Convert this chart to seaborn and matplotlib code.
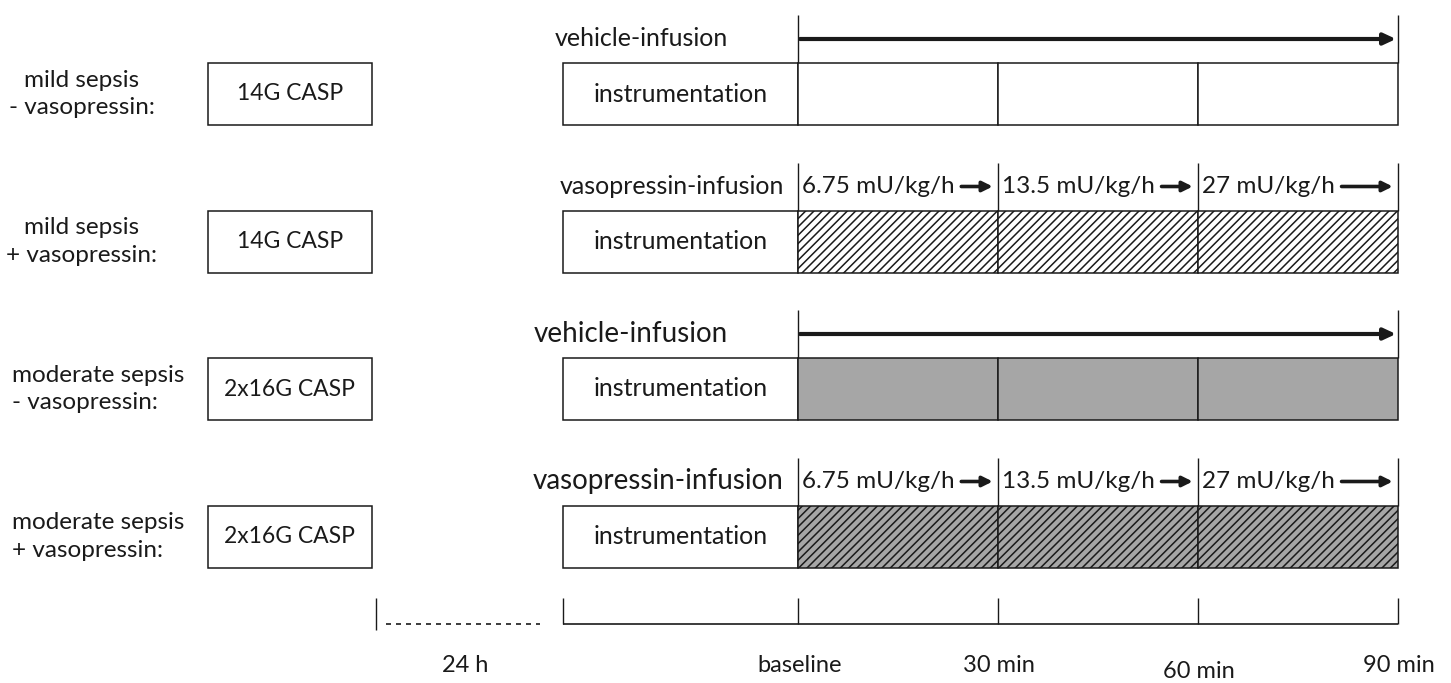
import matplotlib
matplotlib.use("Agg")
import matplotlib.pyplot as plt
import seaborn as sns

# study groups (top to bottom)
group_names = ["mild sepsis\n- vasopressin:", "mild sepsis\n+ vasopressin:",
               "moderate sepsis\n- vasopressin:", "moderate sepsis\n+ vasopressin:"]
casp_labels = ["14G CASP", "14G CASP", "2x16G CASP", "2x16G CASP"]
infusion_labels = ["vehicle-infusion", "vasopressin-infusion",
                   "vehicle-infusion", "vasopressin-infusion"]
gets_vasopressin = [False, True, False, True]
is_moderate = [False, False, True, True]

# infusion periods (min after baseline) and vasopressin doses
period_starts = [0, 30, 60]
period_length = 30
dose_labels = ["6.75 mU/kg/h", "13.5 mU/kg/h", "27 mU/kg/h"]

# time axis
time_points = [0, 30, 60, 90]
time_labels = ["baseline", "30 min", "60 min", "90 min"]
pre_label = "24 h"

sns.set_theme(style="white")
plt.rcParams["font.family"] = ["Lato", "DejaVu Sans"]
plt.rcParams["hatch.linewidth"] = 1.1

PX = 200 / 30.0            # pixels per minute
W, H = 1451, 683
fig = plt.figure(figsize=(W / 100, H / 100), dpi=100)
ax = fig.add_axes([0, 0, 1, 1])
ax.set_xlim(-798 / PX, (W - 798) / PX)
ax.set_ylim(H, 0)
ax.axis("off")

ink = "#1a1a1a"
grey = "#a6a6a6"
lw = 1.1
box_h = 62
casp_left, casp_w = -590 / PX, 164 / PX
instr_left = -235 / PX

fig.canvas.draw()
renderer = fig.canvas.get_renderer()

for i, name in enumerate(group_names):
    yc = 94 + 147.5 * i
    top = yc - box_h / 2

    # group label
    if is_moderate[i]:
        ax.text(-786 / PX, yc, name, ha="left", va="center", fontsize=17.5,
                color=ink, linespacing=1.4)
    else:
        ax.text(-716 / PX, yc, name, ha="center", va="center", fontsize=17.5,
                color=ink, linespacing=1.4, multialignment="center")

    # CASP box
    ax.barh(yc, casp_w, left=casp_left, height=box_h, color="white",
            edgecolor=ink, linewidth=lw)
    ax.text(casp_left + casp_w / 2, yc, casp_labels[i], ha="center",
            va="center", fontsize=16.5, color=ink)

    # instrumentation
    ax.barh(yc, -instr_left, left=instr_left, height=box_h, color="white",
            edgecolor=ink, linewidth=lw)
    ax.text(instr_left / 2, yc, "instrumentation", ha="center", va="center",
            fontsize=18, color=ink)

    # infusion periods
    fill = grey if is_moderate[i] else "white"
    hatch = "////" if gets_vasopressin[i] else None
    ax.barh([yc] * 3, [period_length] * 3, left=period_starts, height=box_h,
            color=fill, edgecolor=ink, linewidth=lw, hatch=hatch)

    # infusion label and markers above boxes
    ly = top - 24
    lx = -14 / PX if gets_vasopressin[i] else -70 / PX
    ax.text(lx, ly, infusion_labels[i], ha="right", va="center",
            fontsize=20 if is_moderate[i] else 18, color=ink)
    if gets_vasopressin[i]:
        marks = time_points
    else:
        marks = [time_points[0], time_points[-1]]
    ax.vlines(marks, top - 48, top, color=ink, linewidth=1.0)

    if gets_vasopressin[i]:
        for s, dose in zip(period_starts, dose_labels):
            t = ax.text(s + 0.6, ly, dose, ha="left", va="center",
                        fontsize=17.5, color=ink)
            bb = t.get_window_extent(renderer=renderer)
            x_end = ax.transData.inverted().transform((bb.x1, 0))[0]
            ax.annotate("", xy=(s + period_length - 0.8, ly),
                        xytext=(x_end + 1.0, ly),
                        arrowprops=dict(arrowstyle="-|>,head_length=0.5,head_width=0.25",
                                        color=ink, lw=2.6, shrinkA=0, shrinkB=0))
    else:
        ax.annotate("", xy=(time_points[-1] - 0.3, ly), xytext=(0.3, ly),
                    arrowprops=dict(arrowstyle="-|>,head_length=0.6,head_width=0.28",
                                    color=ink, lw=3.0, shrinkA=0, shrinkB=0))

# time line at the bottom
base_y = 624
ax.hlines(base_y, instr_left, time_points[-1], color=ink, linewidth=1.2)
ax.vlines([instr_left] + time_points, base_y - 26, base_y, color=ink,
          linewidth=1.0)
ax.vlines(-422 / PX, base_y - 26, base_y + 6, color=ink, linewidth=1.0)
ax.hlines(base_y, -412 / PX, -258 / PX, color=ink, linewidth=1.2,
          linestyles=(0, (3, 3)))

ax.text(-333 / PX, 666, pre_label, ha="center", va="center", fontsize=17,
        color=ink)
for k, (t, lab) in enumerate(zip(time_points, time_labels)):
    dy = 6 if k == 2 else 0
    ax.text(t + 0.2, 666 + dy, lab, ha="center", va="center", fontsize=17,
            color=ink)

fig.savefig("out.png", dpi=100)
